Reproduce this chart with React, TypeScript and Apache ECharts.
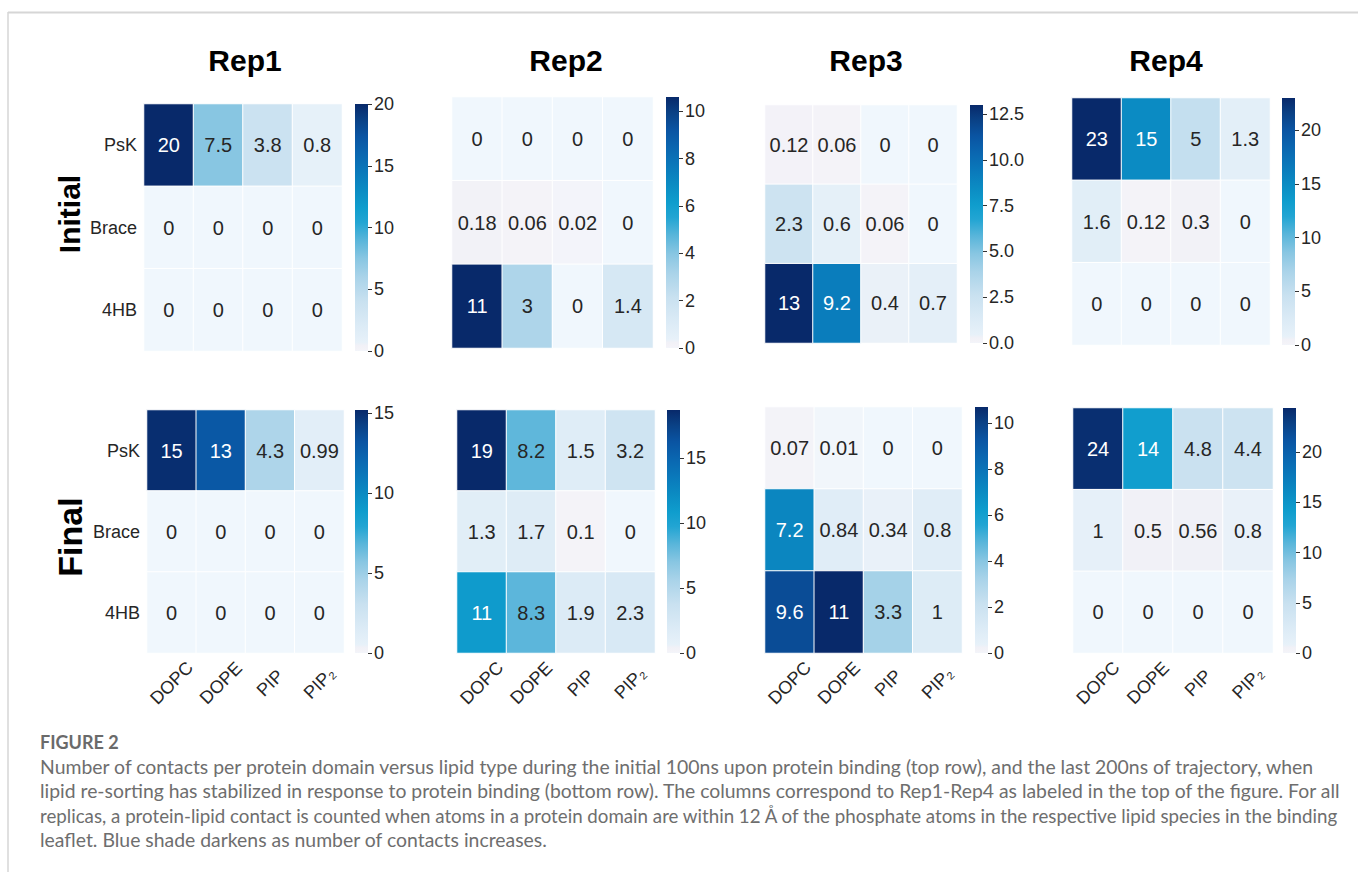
import React, { useEffect, useRef } from "react";
import * as echarts from "echarts";

// ---- data -------------------------------------------------------------
const REPLICAS = ["Rep1", "Rep2", "Rep3", "Rep4"];
const PHASES = ["Initial", "Final"];
const LIPIDS = ["DOPC", "DOPE", "PIP", "PIP₂"];
const DOMAINS = ["PsK", "Brace", "4HB"];

// contacts per domain (rows: PsK, Brace, 4HB) and lipid (DOPC, DOPE, PIP, PIP2)
const REP1_INITIAL = [[20, 7.5, 3.8, 0.8], [0, 0, 0, 0], [0, 0, 0, 0]];
const REP2_INITIAL = [[0, 0, 0, 0], [0.18, 0.06, 0.02, 0], [11, 3, 0, 1.4]];
const REP3_INITIAL = [[0.12, 0.06, 0, 0], [2.3, 0.6, 0.06, 0], [13, 9.2, 0.4, 0.7]];
const REP4_INITIAL = [[23, 15, 5, 1.3], [1.6, 0.12, 0.3, 0], [0, 0, 0, 0]];
const REP1_FINAL = [[15, 13, 4.3, 0.99], [0, 0, 0, 0], [0, 0, 0, 0]];
const REP2_FINAL = [[19, 8.2, 1.5, 3.2], [1.3, 1.7, 0.1, 0], [11, 8.3, 1.9, 2.3]];
const REP3_FINAL = [[0.07, 0.01, 0, 0], [7.2, 0.84, 0.34, 0.8], [9.6, 11, 3.3, 1]];
const REP4_FINAL = [[24, 14, 4.8, 4.4], [1, 0.5, 0.56, 0.8], [0, 0, 0, 0]];

// colour-bar upper limits and tick labels
const CBAR_MAX_INITIAL = [20, 10.6, 13.0, 23.0];
const CBAR_MAX_FINAL = [15.2, 18.7, 10.7, 24.4];
const CBAR_TICKS_INITIAL = [[0, 5, 10, 15, 20], [0, 2, 4, 6, 8, 10], [0, 2.5, 5, 7.5, 10, 12.5], [0, 5, 10, 15, 20]];
const CBAR_TICKS_FINAL = [[0, 5, 10, 15], [0, 5, 10, 15], [0, 2, 4, 6, 8, 10], [0, 5, 10, 15, 20]];
const CBAR_DECIMALS_INITIAL = [0, 0, 1, 0];
const CBAR_DECIMALS_FINAL = [0, 0, 0, 0];

const CAPTION_TITLE = "FIGURE 2";
const CAPTION_LINES = [
  "Number of contacts per protein domain versus lipid type during the initial 100ns upon protein binding (top row), and the last 200ns of trajectory, when",
  "lipid re-sorting has stabilized in response to protein binding (bottom row). The columns correspond to Rep1-Rep4 as labeled in the top of the figure. For all",
  "replicas, a protein-lipid contact is counted when atoms in a protein domain are within 12 Å of the phosphate atoms in the respective lipid species in the binding",
  "leaflet. Blue shade darkens as number of contacts increases.",
];

// ---- layout -------------------------------------------------------------
// heatmap rectangles [left, top, width, height]
const HEAT_RECT_INITIAL = [[144, 104, 198, 247], [452, 97, 201, 251], [765, 105, 192, 238], [1072, 98, 198, 247]];
const HEAT_RECT_FINAL = [[147, 410, 197, 243], [457, 410, 198, 243], [765, 407, 197, 246], [1073, 408, 200, 245]];
const CBAR_LEFT_INITIAL = [355, 666, 970, 1282];
const CBAR_LEFT_FINAL = [355, 667, 975, 1283];
const CBAR_WIDTH = 13;
const TITLE_X = [245, 566, 866, 1166];
// caption line widths: the first and last lines are ragged, the middle two fill the column
const CAPTION_LEFT = 40;
const CAPTION_FULL_WIDTH = 1300;
const CAPTION_FIRST_WIDTH = 1276;

const FONT = "'Liberation Sans', Arial, Helvetica, sans-serif";
const CAPTION_FONT = "Lato, 'Open Sans', sans-serif";
const TEXT_DARK = "#262626";

// colour map (Blues-like, with the faint lilac tint near zero)
const CMAP_STOPS: [number, string][] = [
  [0.0, "#f0f7fd"],
  [0.003, "#f4f3f8"],
  [0.022, "#f1f1f7"],
  [0.035, "#e7f1f9"],
  [0.1, "#dcebf6"],
  [0.2, "#c9e1f0"],
  [0.3, "#a9d3e9"],
  [0.375, "#88c6e2"],
  [0.45, "#58b5da"],
  [0.52, "#22a5d3"],
  [0.58, "#0f9dcd"],
  [0.65, "#0b8cc3"],
  [0.72, "#0a7abb"],
  [0.8, "#0a66b0"],
  [0.87, "#0a54a2"],
  [0.94, "#0a4084"],
  [1.0, "#08296a"],
];

function hexToRgb(h: string): number[] {
  const n = parseInt(h.slice(1), 16);
  return [(n >> 16) & 255, (n >> 8) & 255, n & 255];
}
function rgbToHex(c: number[]): string {
  return "#" + c.map((v) => Math.round(v).toString(16).padStart(2, "0")).join("");
}
function cmap(t: number): string {
  const x = Math.max(0, Math.min(1, t));
  for (let i = 1; i < CMAP_STOPS.length; i++) {
    const [t1, c1] = CMAP_STOPS[i];
    const [t0, c0] = CMAP_STOPS[i - 1];
    if (x <= t1) {
      const f = t1 === t0 ? 0 : (x - t0) / (t1 - t0);
      const a = hexToRgb(c0);
      const b = hexToRgb(c1);
      return rgbToHex(a.map((v, k) => v + (b[k] - v) * f));
    }
  }
  return CMAP_STOPS[CMAP_STOPS.length - 1][1];
}
function luminance(hex: string): number {
  const lin = hexToRgb(hex).map((v) => {
    const s = v / 255;
    return s <= 0.03928 ? s / 12.92 : Math.pow((s + 0.055) / 1.055, 2.4);
  });
  return 0.2126 * lin[0] + 0.7152 * lin[1] + 0.0722 * lin[2];
}
const PALETTE = Array.from({ length: 1001 }, (_, i) => cmap(i / 1000));

function measure(text: string, font: string): number {
  try {
    const ctx = document.createElement("canvas").getContext("2d");
    if (!ctx) return 0;
    ctx.font = font;
    return ctx.measureText(text).width;
  } catch (e) {
    return 0;
  }
}

function buildOption() {
  const matrices = [
    [REP1_INITIAL, REP2_INITIAL, REP3_INITIAL, REP4_INITIAL],
    [REP1_FINAL, REP2_FINAL, REP3_FINAL, REP4_FINAL],
  ];
  const maxes = [CBAR_MAX_INITIAL, CBAR_MAX_FINAL];
  const ticks = [CBAR_TICKS_INITIAL, CBAR_TICKS_FINAL];
  const decimals = [CBAR_DECIMALS_INITIAL, CBAR_DECIMALS_FINAL];
  const heatRects = [HEAT_RECT_INITIAL, HEAT_RECT_FINAL];
  const cbarLefts = [CBAR_LEFT_INITIAL, CBAR_LEFT_FINAL];

  const grid: any[] = [];
  const xAxis: any[] = [];
  const yAxis: any[] = [];
  const series: any[] = [];
  const visualMap: any[] = [];

  const gradient = new echarts.graphic.LinearGradient(
    0, 1, 0, 0,
    CMAP_STOPS.map(([offset, color]) => ({ offset, color }))
  );

  PHASES.forEach((_phase, r) => {
    REPLICAS.forEach((_rep, c) => {
      const idx = grid.length;
      const [left, top, width, height] = heatRects[r][c];
      const vmax = maxes[r][c];
      const m = matrices[r][c];

      // heatmap grid
      grid.push({ left, top, width, height, containLabel: false });
      xAxis.push({
        type: "category",
        gridIndex: idx,
        data: LIPIDS,
        axisLine: { show: false },
        axisTick: { show: false },
        splitLine: { show: false },
        axisLabel: {
          show: r === 1,
          rotate: 45,
          interval: 0,
          align: "center",
          verticalAlign: "middle",
          margin: 30,
          fontSize: 18,
          fontFamily: FONT,
          color: TEXT_DARK,
        },
      });
      yAxis.push({
        type: "category",
        gridIndex: idx,
        data: DOMAINS,
        inverse: true,
        axisLine: { show: false },
        axisTick: { show: false },
        splitLine: { show: false },
        axisLabel: {
          show: c === 0,
          margin: 7,
          fontSize: 18,
          fontFamily: FONT,
          color: TEXT_DARK,
        },
      });

      const data: any[] = [];
      m.forEach((row, yi) =>
        row.forEach((v, xi) => {
          const col = cmap(v / vmax);
          data.push({
            value: [xi, yi, v],
            label: { color: luminance(col) > 0.408 ? TEXT_DARK : "#ffffff" },
          });
        })
      );
      const heatSeriesIndex = series.length;
      series.push({
        type: "heatmap",
        xAxisIndex: idx,
        yAxisIndex: idx,
        data,
        itemStyle: { borderColor: "#ffffff", borderWidth: 1 },
        label: {
          show: true,
          fontSize: 20,
          fontFamily: FONT,
          formatter: (p: any) => String(p.value[2]),
        },
        emphasis: { disabled: true },
      });
      visualMap.push({
        type: "continuous",
        show: false,
        min: 0,
        max: vmax,
        dimension: 2,
        seriesIndex: heatSeriesIndex,
        inRange: { color: PALETTE },
      });

      // colour bar grid
      const cIdx = grid.length;
      const dec = decimals[r][c];
      grid.push({ left: cbarLefts[r][c], top, width: CBAR_WIDTH, height, containLabel: false });
      xAxis.push({
        type: "category",
        gridIndex: cIdx,
        data: ["scale"],
        show: false,
      });
      yAxis.push({
        type: "value",
        gridIndex: cIdx,
        min: 0,
        max: vmax,
        position: "right",
        axisLine: { show: false },
        splitLine: { show: false },
        axisTick: {
          show: true,
          length: 4,
          customValues: ticks[r][c],
          lineStyle: { color: "#333333", width: 1 },
        },
        axisLabel: {
          show: true,
          margin: 6,
          fontSize: 18,
          fontFamily: FONT,
          color: TEXT_DARK,
          customValues: ticks[r][c],
          formatter: (v: number) => v.toFixed(dec),
        },
      });
      series.push({
        type: "bar",
        xAxisIndex: cIdx,
        yAxisIndex: cIdx,
        data: [vmax],
        barWidth: "100%",
        barCategoryGap: 0,
        silent: true,
        itemStyle: { color: gradient },
      });
    });
  });

  // caption: font size set by the first line, middle lines fitted to the column
  let captionSize = 17;
  const w100 = measure(CAPTION_LINES[0], `100px ${CAPTION_FONT}`);
  if (w100 > 0) captionSize = Math.max(14, Math.min(20, (100 * CAPTION_FIRST_WIDTH) / w100));
  const captionFont = `${captionSize.toFixed(2)}px ${CAPTION_FONT}`;
  const captionScale = CAPTION_LINES.map((line, i) => {
    if (i !== 1 && i !== 2) return 1;
    const w = measure(line, captionFont);
    return w > 0 ? CAPTION_FULL_WIDTH / w : 1;
  });

  const graphic: any[] = [
    // figure frame
    { type: "line", shape: { x1: 8, y1: 12.5, x2: 1358, y2: 12.5 }, style: { stroke: "#d6d6d6", lineWidth: 2 } },
    { type: "line", shape: { x1: 8, y1: 12, x2: 8, y2: 872 }, style: { stroke: "#d6d6d6", lineWidth: 1.5 } },
    // column titles
    ...REPLICAS.map((rep, i) => ({
      type: "text",
      x: TITLE_X[i],
      y: 60,
      style: {
        text: rep,
        font: `bold 30px ${FONT}`,
        fill: "#000000",
        align: "center",
        verticalAlign: "middle",
      },
    })),
    // row titles
    {
      type: "text",
      x: 69,
      y: 214,
      rotation: Math.PI / 2,
      style: { text: PHASES[0], font: `bold 30px ${FONT}`, fill: "#000000", align: "center", verticalAlign: "middle" },
    },
    {
      type: "text",
      x: 70,
      y: 537,
      rotation: Math.PI / 2,
      style: { text: PHASES[1], font: `bold 34px ${FONT}`, fill: "#000000", align: "center", verticalAlign: "middle" },
    },
    // caption
    {
      type: "text",
      x: CAPTION_LEFT,
      y: 742,
      style: {
        text: CAPTION_TITLE,
        font: `bold 18px ${CAPTION_FONT}`,
        fill: "#6a6a6a",
        align: "left",
        verticalAlign: "middle",
      },
    },
    ...CAPTION_LINES.map((line, i) => ({
      type: "text",
      x: CAPTION_LEFT,
      y: 766 + i * 24.5,
      scaleX: captionScale[i],
      style: {
        text: line,
        font: captionFont,
        fill: "#6e6e6e",
        align: "left",
        verticalAlign: "middle",
      },
    })),
  ];

  return {
    animation: false,
    backgroundColor: "#ffffff",
    textStyle: { fontFamily: FONT },
    grid,
    xAxis,
    yAxis,
    visualMap,
    series,
    graphic,
  };
}

export default function App() {
  const ref = useRef<HTMLDivElement>(null);
  useEffect(() => {
    if (!ref.current) return;
    const chart = echarts.init(ref.current, null, { renderer: "svg" });
    chart.setOption(buildOption() as any);
    return () => chart.dispose();
  }, []);
  return (
    <div
      ref={ref}
      style={{ position: "fixed", left: 0, top: 0, width: 1358, height: 872, background: "#ffffff" }}
    />
  );
}
